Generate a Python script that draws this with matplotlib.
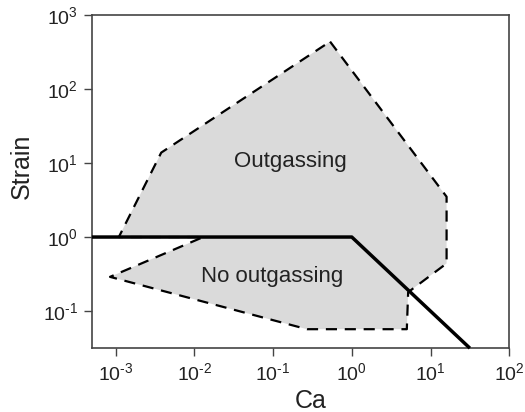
import matplotlib
matplotlib.use("Agg")
import numpy as np
import matplotlib.pyplot as plt
from matplotlib.ticker import LogLocator, NullLocator, FuncFormatter

plt.rcParams['font.family'] = ['Liberation Sans', 'DejaVu Sans']
plt.rcParams['mathtext.fontset'] = 'custom'
plt.rcParams['mathtext.rm'] = 'Liberation Sans'
plt.rcParams['mathtext.default'] = 'regular'

# Regime polygon (Ca, strain)
region_ca = [0.53, 16, 16, 5.2, 5.0, 0.27, 8.5e-4, 0.013, 1.1e-3, 3.8e-3]
region_strain = [435, 3.5, 0.44, 0.18, 0.057, 0.057, 0.29, 1.0, 1.0, 13.8]

# Threshold line: strain = 1 until Ca = 1, then strain = 1/Ca
threshold_ca = [5e-4, 1.0, 31.6]
threshold_strain = [1.0, 1.0, 0.0316]


def pow10(v, pos):
    # plain hyphen for the exponent sign, like the original
    e = int(round(np.log10(v)))
    return r'$10^{\text{%d}}$' % e


fig = plt.figure(figsize=(5.25, 4.12), dpi=100)
ax = fig.add_axes([0.175, 0.155, 0.795, 0.809])

ax.fill(region_ca, region_strain, facecolor='#dadada', edgecolor='none', zorder=1)
ax.plot(region_ca + region_ca[:1], region_strain + region_strain[:1],
        color='black', linestyle=(0, (5, 3.5)), linewidth=1.6, zorder=2)
ax.plot(threshold_ca, threshold_strain, color='black', linewidth=2.5,
        solid_capstyle='butt', zorder=3, clip_on=False)

ax.text(0.165, 10.4, 'Outgassing', fontsize=16, ha='center', va='center', color='#222222')
ax.text(0.096, 0.29, 'No outgassing', fontsize=16, ha='center', va='center', color='#222222')

ax.set_xscale('log')
ax.set_yscale('log')
ax.set_xlim(5e-4, 1e2)
ax.set_ylim(10 ** -1.5, 1e3)

ax.xaxis.set_major_locator(LogLocator(base=10, numticks=10))
ax.yaxis.set_major_locator(LogLocator(base=10, numticks=10))
ax.xaxis.set_minor_locator(NullLocator())
ax.yaxis.set_minor_locator(NullLocator())
ax.xaxis.set_major_formatter(FuncFormatter(pow10))
ax.yaxis.set_major_formatter(FuncFormatter(pow10))

ax.tick_params(direction='out', length=6, width=1, color='#444444', labelsize=14,
               labelcolor='#222222', pad=4)
for s in ax.spines.values():
    s.set_color('#444444')
    s.set_linewidth(1.2)

ax.set_xlabel('Ca', fontsize=18, color='#222222')
ax.set_ylabel('Strain', fontsize=18, color='#222222')
ax.xaxis.set_label_coords(0.525, -0.122)
ax.yaxis.set_label_coords(-0.14, 0.547)

fig.savefig('out.png', dpi=100)
